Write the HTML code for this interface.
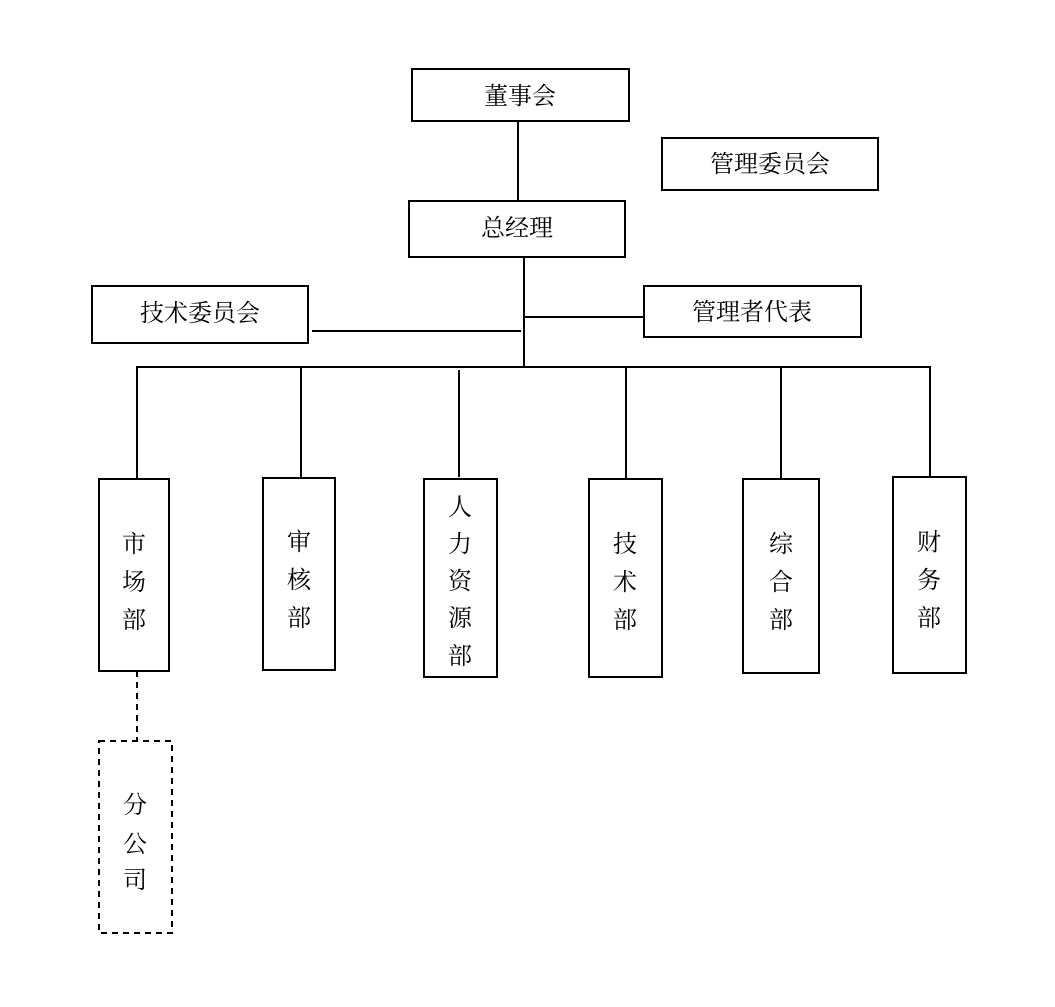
<!DOCTYPE html>
<html><head><meta charset="utf-8"><style>
html,body{margin:0;padding:0;background:#fff;}
svg{display:block;}
text{font-family:"Liberation Serif","Noto Serif CJK SC","Noto Sans CJK SC",serif;font-size:24px;fill:#000;text-anchor:middle;dominant-baseline:central;}
</style></head><body>
<svg width="1055" height="1007" viewBox="0 0 1055 1007" xmlns="http://www.w3.org/2000/svg">
<g fill="none" stroke="#000" stroke-width="2">
<rect x="412" y="69" width="217" height="52"/>
<rect x="662" y="138" width="216" height="52"/>
<line x1="518" y1="121" x2="518" y2="201"/>
<rect x="409" y="201" width="216" height="56"/>
<line x1="524" y1="257" x2="524" y2="367"/>
<rect x="92" y="286" width="216" height="57"/>
<line x1="312" y1="331" x2="521" y2="331"/>
<rect x="644" y="286" width="217" height="51"/>
<line x1="524" y1="317" x2="644" y2="317"/>
<line x1="136" y1="367" x2="931" y2="367"/>
<line x1="137" y1="367" x2="137" y2="479"/>
<line x1="301" y1="367" x2="301" y2="478"/>
<line x1="459" y1="370" x2="459" y2="477"/>
<line x1="626" y1="367" x2="626" y2="479"/>
<line x1="781" y1="367" x2="781" y2="479"/>
<line x1="930" y1="367" x2="930" y2="477"/>
<rect x="99" y="479" width="70" height="192"/>
<rect x="263" y="478" width="72" height="192"/>
<rect x="424" y="479" width="73" height="198"/>
<rect x="589" y="479" width="73" height="198"/>
<rect x="743" y="479" width="76" height="194"/>
<rect x="893" y="477" width="73" height="196"/>
<line x1="137" y1="671" x2="137" y2="741" stroke-dasharray="6,5"/>
<rect x="99" y="741" width="73" height="192" stroke-dasharray="6,5"/>
</g>
<text x="520" y="97">董事会</text>
<text x="770" y="165">管理委员会</text>
<text x="517" y="229">总经理</text>
<text x="200" y="314">技术委员会</text>
<text x="752" y="313">管理者代表</text>
<text x="134" y="545">市</text><text x="134" y="583">场</text><text x="134" y="621">部</text>
<text x="299" y="543">审</text><text x="299" y="581">核</text><text x="299" y="619">部</text>
<text x="460" y="508">人</text><text x="460" y="545">力</text><text x="460" y="582">资</text><text x="460" y="619">源</text><text x="460" y="657">部</text>
<text x="625" y="545">技</text><text x="625" y="583">术</text><text x="625" y="621">部</text>
<text x="781" y="545">综</text><text x="781" y="583">合</text><text x="781" y="621">部</text>
<text x="929" y="543">财</text><text x="929" y="581">务</text><text x="929" y="619">部</text>
<text x="135" y="806">分</text><text x="135" y="845">公</text><text x="135" y="881">司</text>
</svg>
</body></html>
